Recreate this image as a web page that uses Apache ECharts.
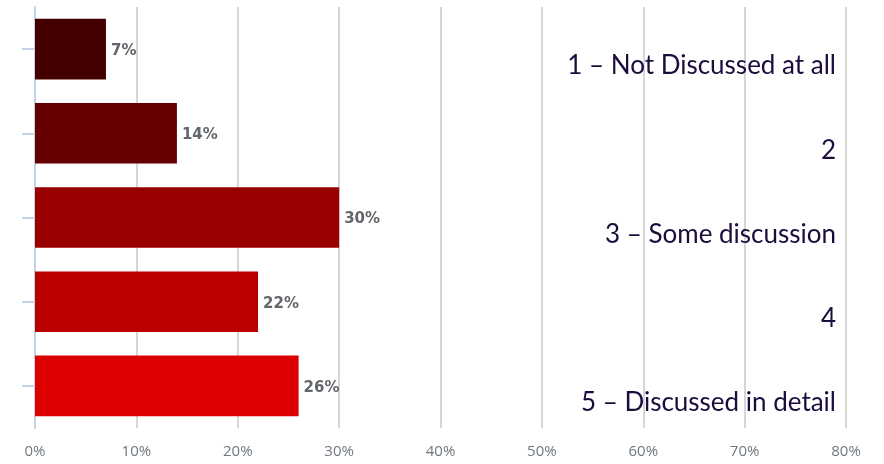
<!DOCTYPE html>
<html>
<head>
<meta charset="utf-8">
<script src="https://cdn.jsdelivr.net/npm/echarts@6/dist/echarts.min.js"></script>
<style>
  html, body { margin: 0; padding: 0; background: #ffffff; }
  #chart { width: 884px; height: 464px; }
</style>
</head>
<body>
<div id="chart"></div>
<script>
// Response categories, top to bottom
const categories = [
  '1 – Not Discussed at all',
  '2',
  '3 – Some discussion',
  '4',
  '5 – Discussed in detail'
];
// Share of responses (%)
const shares = [7, 14, 30, 22, 26];
// Bar fill per category, darkest first
const barColors = ['#440000', '#640000', '#990000', '#bb0000', '#dd0000'];
// Horizontal scale
const axisMin = 0;
const axisMax = 80;
const axisStep = 10;

const chart = echarts.init(document.getElementById('chart'));

chart.setOption({
  animation: false,
  backgroundColor: '#ffffff',
  grid: { left: 35, right: 38, top: 7, bottom: 36, containLabel: false },
  xAxis: {
    type: 'value',
    min: axisMin,
    max: axisMax,
    interval: axisStep,
    axisLine: { show: false },
    axisTick: { show: false },
    splitLine: { show: true, lineStyle: { color: '#d6d6d6', width: 2 } },
    axisLabel: {
      formatter: '{value}%',
      margin: 16,
      color: '#6f7780',
      fontFamily: 'Open Sans',
      fontSize: 15
    }
  },
  yAxis: [
    {
      type: 'category',
      data: categories,
      inverse: true,
      position: 'left',
      axisLine: { show: true, lineStyle: { color: '#c3d3e4', width: 2 } },
      axisTick: { show: true, alignWithLabel: true, length: 13, lineStyle: { color: '#c3d3e4', width: 2 } },
      axisLabel: { show: false },
      splitLine: { show: false }
    },
    {
      // Category names, drawn inside the plot against the right edge
      type: 'category',
      data: categories,
      inverse: true,
      position: 'right',
      axisLine: { show: false },
      axisTick: { show: false },
      splitLine: { show: false },
      axisLabel: {
        inside: true,
        margin: 10,
        formatter: (v) => '{t|' + v + '}',
        rich: {
          t: {
            color: '#1c0c3c',
            fontFamily: 'Lato',
            fontSize: 26,
            padding: [34, 0, 0, 0]
          }
        }
      }
    }
  ],
  series: [
    {
      type: 'bar',
      yAxisIndex: 0,
      data: shares.map((v, i) => ({ value: v, itemStyle: { color: barColors[i] } })),
      barWidth: '72%',
      label: {
        show: true,
        position: 'right',
        distance: 5,
        offset: [0, 2],
        formatter: '{c}%',
        color: '#63676c',
        fontFamily: 'DejaVu Sans',
        fontWeight: 'bold',
        fontSize: 15
      }
    }
  ]
});
</script>
</body>
</html>
